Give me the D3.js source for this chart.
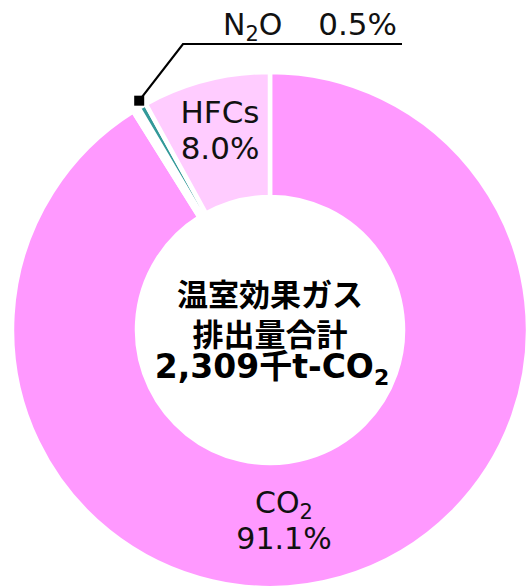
<!DOCTYPE html>
<html><head><meta charset="utf-8">
<script src="https://cdn.jsdelivr.net/npm/d3@7"></script>
<style>html,body{margin:0;padding:0;background:#fff;overflow:hidden}</style>
</head><body>
<svg id="c" width="529" height="588"></svg>
<script>
const gases = ["CO2", "その他", "N2O", "HFCs"];
const shares = [91.1, 0.4, 0.5, 8.0];
const colors = ["#FF99FF", "#FFFFFF", "#339999", "#FFCCFF"];
const centerLines = ["温室効果ガス", "排出量合計"];
const totalText = "2,309千t-CO";

const svg = d3.select("#c");
const cx = 270, cy = 330, rIn = 133, rOut = 258;
const g = svg.append("g").attr("transform", `translate(${cx},${cy})`);
const data = gases.map((k, i) => ({k, v: shares[i], c: colors[i]}));
const pie = d3.pie().sort(null).value(d => d.v);
const arcs = pie(data);
const arc = d3.arc().innerRadius(rIn).outerRadius(rOut);
g.selectAll("path").data(arcs).join("path")
  .attr("d", arc).attr("fill", d => d.data.c)
  .attr("stroke", "#fff").attr("stroke-width", 4.5).attr("stroke-linejoin", "miter");

const font = "'DejaVu Sans','Noto Sans CJK JP',sans-serif";
const jfont = "'Noto Sans CJK JP','DejaVu Sans',sans-serif";

// center text
const ct = g.append("g").attr("font-family", jfont).attr("font-weight", "bold").attr("text-anchor", "middle").attr("fill", "#000");
ct.append("text").attr("y", -38).attr("dominant-baseline", "central").attr("font-size", 31).text(centerLines[0]);
ct.append("text").attr("y", 2).attr("dominant-baseline", "central").attr("font-size", 31).text(centerLines[1]);
const t3 = ct.append("text").attr("x", 2).attr("y", 48).attr("font-size", 33).attr("font-family", font);
t3.append("tspan").text(totalText);
t3.append("tspan").attr("font-size", 22).attr("dy", 7).text("2");

// slice labels
function label(x, y, main, sub, pct, size) {
  const t = g.append("g").attr("font-family", font).attr("text-anchor", "middle").attr("fill", "#111");
  const a = t.append("text").attr("x", x).attr("y", y).attr("font-size", size);
  a.append("tspan").text(main);
  if (sub) { a.append("tspan").attr("font-size", 21).attr("dy", 6).text(sub); }
  t.append("text").attr("x", x).attr("y", y + 36).attr("font-size", size).text(pct);
}
const n2o = arcs[2];
label(14, 183, "CO", "2", shares[0].toFixed(1) + "%", 30);
label(-50, -207, "HFCs", "", shares[3].toFixed(1) + "%", 31);

// N2O leader
const ma = (n2o.startAngle + n2o.endAngle) / 2;
const mr = 264;
const mx = mr * Math.sin(ma), my = -mr * Math.cos(ma);
g.append("polyline")
  .attr("points", `${mx},${my} ${-87},${-286} ${132},${-286}`)
  .attr("fill", "none").attr("stroke", "#000").attr("stroke-width", 2.2);
g.append("rect").attr("x", mx - 5).attr("y", my - 5).attr("width", 10).attr("height", 10).attr("fill", "#000");
const nt = g.append("text").attr("x", -47).attr("y", -295).attr("font-family", font).attr("font-size", 30).attr("fill", "#111");
nt.append("tspan").text("N");
nt.append("tspan").attr("font-size", 21).attr("dy", 6).text("2");
nt.append("tspan").attr("dy", -6).text("O");
g.append("text").attr("x", 127).attr("y", -295).attr("text-anchor", "end")
  .attr("font-family", font).attr("font-size", 31).attr("fill", "#111")
  .text(shares[2].toFixed(1) + "%");
</script>
</body></html>
